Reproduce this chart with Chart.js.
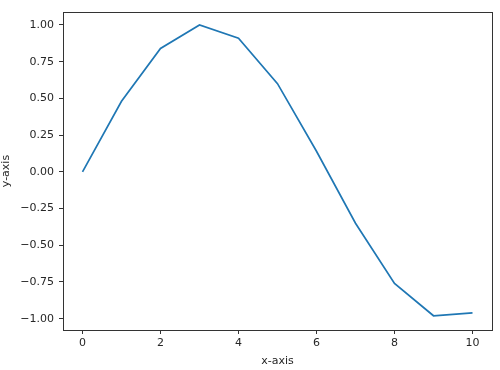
<!DOCTYPE html>
<html><head><meta charset="utf-8">
<script src="https://cdn.jsdelivr.net/npm/chart.js@4/dist/chart.umd.min.js"></script>
<style>html,body{margin:0;padding:0;background:#fff}canvas{display:block}</style>
</head><body>
<canvas id="c" width="500" height="370"></canvas>
<script>
const xValues = [0, 1, 2, 3, 4, 5, 6, 7, 8, 9, 10];
const yValues = [0.00, 0.48, 0.84, 1.00, 0.91, 0.60, 0.14, -0.35, -0.76, -0.98, -0.96];
const xTicks = [0, 2, 4, 6, 8, 10];
const yTicks = [-1.00, -0.75, -0.50, -0.25, 0.00, 0.25, 0.50, 0.75, 1.00];
const xTitle = 'x-axis';
const yTitle = 'y-axis';

const font = {family: 'DejaVu Sans', size: 11};
const txt = '#262626';

const frame = {
  id: 'frame',
  afterDraw(chart) {
    const a = chart.chartArea, ctx = chart.ctx;
    ctx.save();
    ctx.strokeStyle = '#333';
    ctx.lineWidth = 1;
    ctx.strokeRect(Math.round(a.left) + 0.5, Math.round(a.top) + 0.5,
      Math.round(a.right - a.left), Math.round(a.bottom - a.top));
    ctx.restore();
  }
};

new Chart(document.getElementById('c'), {
  type: 'scatter',
  data: {
    datasets: [{
      data: xValues.map((x, i) => ({x, y: yValues[i]})),
      showLine: true,
      borderColor: '#1f77b4',
      borderWidth: 1.7,
      pointRadius: 0,
      fill: false,
      tension: 0
    }]
  },
  options: {
    responsive: false,
    animation: false,
    events: [],
    layout: {padding: {top: 12, right: 8, left: 0, bottom: 2}},
    plugins: {legend: {display: false}, tooltip: {enabled: false}},
    scales: {
      x: {
        type: 'linear', min: -0.5, max: 10.5,
        afterBuildTicks: s => { s.ticks = xTicks.map(v => ({value: v})); },
        afterFit: s => { s.height = 38; },
        grid: {drawOnChartArea: false, drawTicks: true, tickLength: 4, color: '#333'},
        border: {display: true, color: '#333'},
        ticks: {font, color: txt, padding: 3, maxRotation: 0, callback: v => String(v)},
        title: {display: true, text: xTitle, font, color: txt, padding: {top: 3, bottom: 0}}
      },
      y: {
        type: 'linear', min: -1.077, max: 1.088,
        afterBuildTicks: s => { s.ticks = yTicks.map(v => ({value: v})); },
        afterFit: s => { s.width = 63; },
        grid: {drawOnChartArea: false, drawTicks: true, tickLength: 4, color: '#333'},
        border: {display: true, color: '#333'},
        ticks: {font, color: txt, padding: 5, callback: v => v.toFixed(2).replace('-', '\u2212')},
        title: {display: true, text: yTitle, font, color: txt, padding: {top: 0, bottom: 0}}
      }
    }
  },
  plugins: [frame]
});
</script>
</body></html>
